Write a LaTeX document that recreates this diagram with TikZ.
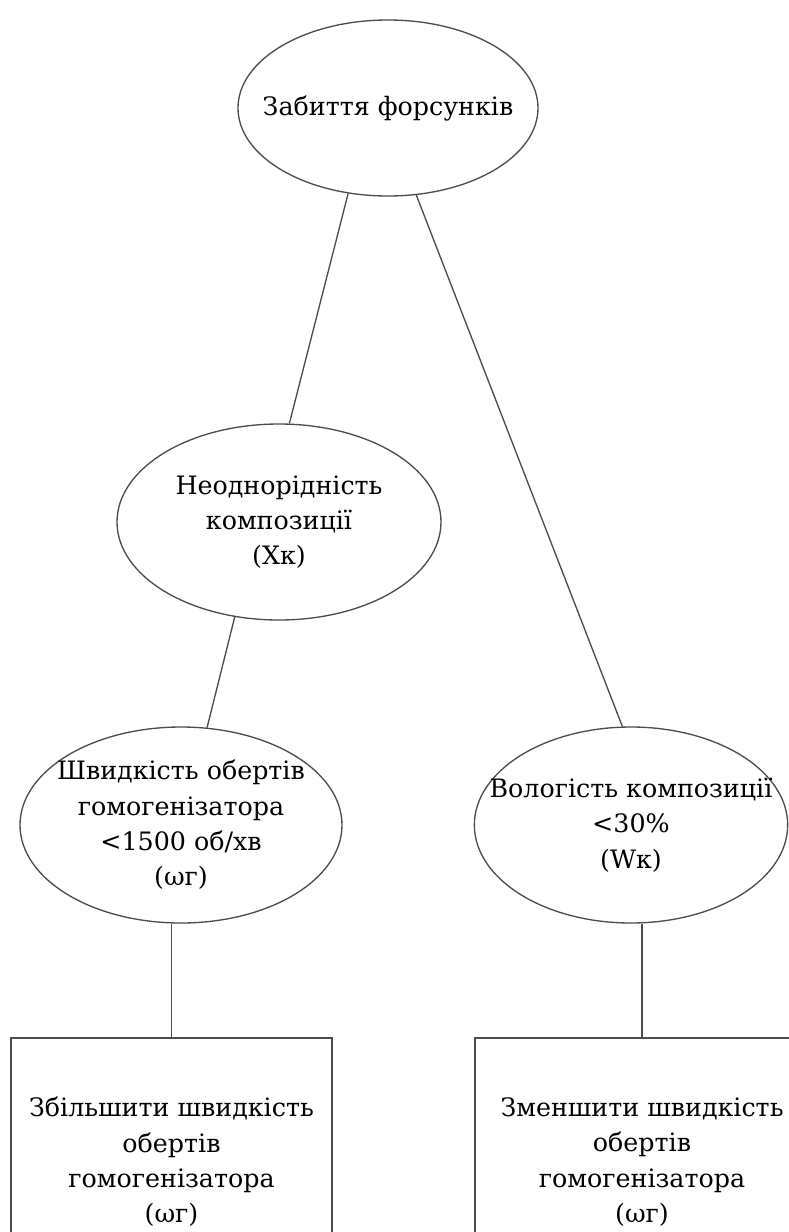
\documentclass[tikz,border=0pt]{standalone}
\usepackage{fontspec}
\setmainfont{DejaVu Serif}
\usetikzlibrary{shapes.geometric}
\begin{document}
\begin{tikzpicture}[x=0.75pt,y=-0.75pt,
  oval/.style={draw=black!70,line width=1pt,ellipse,inner sep=0pt},
  box/.style={draw=black!70,line width=1pt,rectangle,inner sep=0pt},
  txt/.style={align=center,font=\fontsize{19}{26.5}\selectfont,text=black},
  link/.style={draw=black!70,line width=1pt}]
\useasboundingbox (0,0) rectangle (789,1232);
\clip (0,0) rectangle (789,1232);
\node[oval,minimum width=225pt,minimum height=132pt] (root) at (388,108) {};
\node[txt] (root-t) at (root) {Забиття форсунків};
\node[oval,minimum width=243pt,minimum height=147pt] (cause) at (279,522) {};
\node[txt] (cause-t) at (cause) {Неоднорідність\\композиції\\(Xк)};
\node[oval,minimum width=241.5pt,minimum height=147pt] (speed) at (181,825) {};
\node[txt] (speed-t) at (speed) {Швидкість обертів\\гомогенізатора\\<1500 об/хв\\(ωг)};
\node[oval,minimum width=235pt,minimum height=147pt] (moist) at (631,825) {};
\node[txt] (moist-t) at (moist) {Вологість композиції\\<30\%\\(Wк)};
\node[box,minimum width=240.75pt,minimum height=186pt] (lbox) at (171.5,1162) {};
\node[txt] (lbox-t) at (lbox) {Збільшити швидкість\\обертів\\гомогенізатора\\(ωг)};
\node[box,minimum width=250.5pt,minimum height=186pt] (rbox) at (642,1162) {};
\node[txt] (rbox-t) at (rbox) {Зменшити швидкість\\обертів\\гомогенізатора\\(ωг)};
\draw[link] (root.245.8) -- (cause.84.8);
\draw[link] (root.288.6) -- (moist.95.2);
\draw[link] (cause.245.8) -- (speed.75.7);
\draw[link] (lbox.north) -- (lbox.north |- speed.south);
\draw[link] (rbox.north) -- (rbox.north |- moist.south);
\end{tikzpicture}
\end{document}
